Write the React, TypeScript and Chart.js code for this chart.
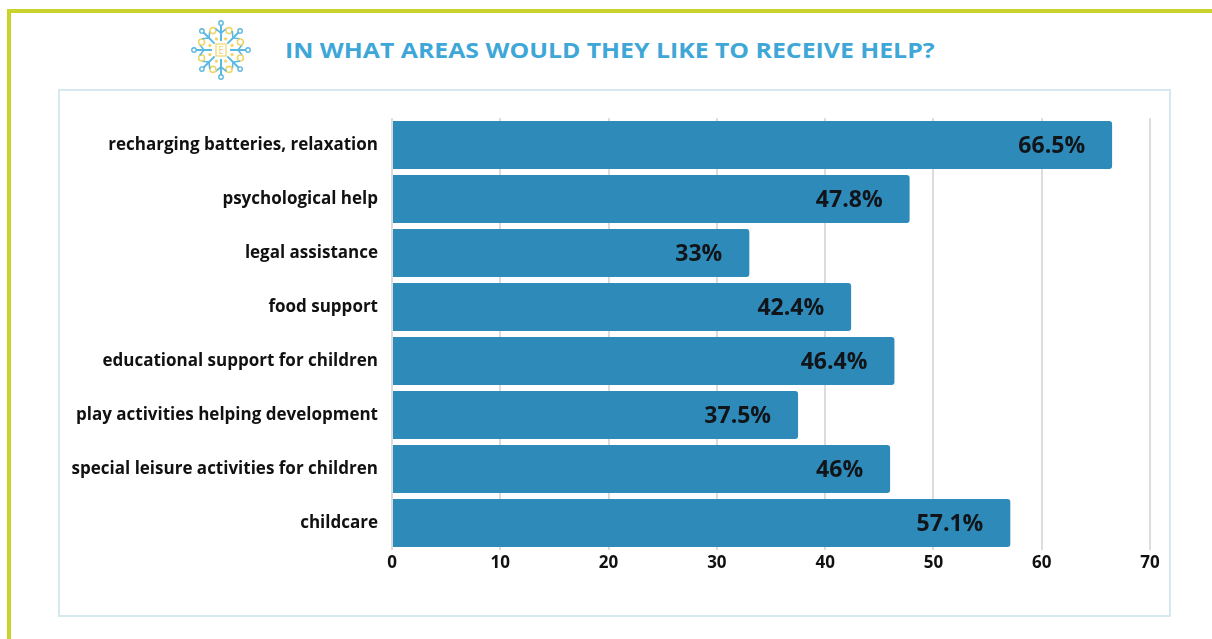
import React, { useEffect, useRef } from "react";
import { Chart, registerables } from "chart.js";

Chart.register(...registerables);

const categories = [
  "recharging batteries, relaxation",
  "psychological help",
  "legal assistance",
  "food support",
  "educational support for children",
  "play activities helping development",
  "special leisure activities for children",
  "childcare",
];
const values = [66.5, 47.8, 33, 42.4, 46.4, 37.5, 46, 57.1];
const valueLabels = ["66.5%", "47.8%", "33%", "42.4%", "46.4%", "37.5%", "46%", "57.1%"];
const title = "IN WHAT AREAS WOULD THEY LIKE TO RECEIVE HELP?";

const FONT = "'Open Sans', 'Noto Sans', sans-serif";

const endLabels = {
  id: "endLabels",
  afterDatasetsDraw(chart: any) {
    const ctx = chart.ctx;
    const meta = chart.getDatasetMeta(0);
    ctx.save();
    ctx.font = `bold 23px ${FONT}`;
    ctx.fillStyle = "#111418";
    ctx.textAlign = "right";
    ctx.textBaseline = "middle";
    meta.data.forEach((bar: any, i: number) => {
      ctx.fillText(valueLabels[i], bar.x - 27, bar.y + 1);
    });
    ctx.restore();
  },
};

function Logo() {
  const blue = "#5bb8e0";
  const yellow = "#f0d66a";
  const arms = [];
  for (let i = 0; i < 8; i++) {
    const a = (i * Math.PI) / 4;
    const c = Math.cos(a), s = Math.sin(a);
    const x1 = 31 + c * 9, y1 = 31 + s * 9;
    const x2 = 31 + c * 25, y2 = 31 + s * 25;
    arms.push(
      <g key={i}>
        <line x1={x1} y1={y1} x2={x2} y2={y2} stroke={blue} strokeWidth={2} />
        <circle cx={31 + c * 27} cy={31 + s * 27} r={2.2} fill="none" stroke={blue} strokeWidth={1.4} />
        <line
          x1={31 + c * 17} y1={31 + s * 17}
          x2={31 + c * 17 + Math.cos(a + 0.9) * 7} y2={31 + s * 17 + Math.sin(a + 0.9) * 7}
          stroke={blue} strokeWidth={1.6}
        />
        <line
          x1={31 + c * 17} y1={31 + s * 17}
          x2={31 + c * 17 + Math.cos(a - 0.9) * 7} y2={31 + s * 17 + Math.sin(a - 0.9) * 7}
          stroke={blue} strokeWidth={1.6}
        />
        <circle cx={31 + Math.cos(a + Math.PI / 8) * 21} cy={31 + Math.sin(a + Math.PI / 8) * 21} r={3} fill="none" stroke={yellow} strokeWidth={1.6} />
        <circle cx={31 + Math.cos(a + Math.PI / 8) * 12} cy={31 + Math.sin(a + Math.PI / 8) * 12} r={1.6} fill={yellow} />
      </g>
    );
  }
  return (
    <svg width={62} height={62} style={{ position: "absolute", left: 190, top: 19 }}>
      {arms}
      <rect x={26} y={25} width={10} height={12} fill="none" stroke={yellow} strokeWidth={1.2} />
      <text x={31} y={35} fontSize={10} fill={yellow} textAnchor="middle" fontFamily={FONT}>E</text>
    </svg>
  );
}

export default function App() {
  const ref = useRef<HTMLCanvasElement>(null);
  useEffect(() => {
    if (!ref.current) return;
    const chart = new Chart(ref.current, {
      type: "bar",
      data: {
        labels: categories,
        datasets: [
          {
            data: values,
            backgroundColor: "#2e8bb9",
            borderRadius: 3,
            borderSkipped: "start",
            barPercentage: 0.89,
            categoryPercentage: 1,
          },
        ],
      },
      options: {
        indexAxis: "y",
        animation: false,
        responsive: false,
        maintainAspectRatio: false,
        layout: { padding: { top: 28, right: 20, bottom: 42, left: 0 } },
        plugins: { legend: { display: false }, tooltip: { enabled: false } },
        scales: {
          x: {
            min: 0,
            max: 70,
            ticks: { stepSize: 10, color: "#111", padding: 3, font: { family: FONT, size: 17, weight: "bold" } },
            grid: { color: "#dcdcdc", lineWidth: 2, drawTicks: false },
            border: { display: false },
            afterFit: (scale: any) => {
              scale.height = 24;
            },
          },
          y: {
            ticks: { color: "#111", padding: 14, font: { family: FONT, size: 17, weight: "bold" } },
            grid: { display: false, drawTicks: false },
            border: { display: false },
            afterFit: (scale: any) => {
              scale.width = 333;
            },
          },
        },
      },
      plugins: [endLabels],
    });
    return () => chart.destroy();
  }, []);

  return (
    <div style={{ position: "absolute", left: 0, top: 0, width: 1212, height: 639, background: "#fff", overflow: "hidden" }}>
      <div
        style={{
          position: "absolute",
          left: 7,
          top: 9,
          width: 1300,
          height: 700,
          borderTop: "4px solid #c9d32b",
          borderLeft: "4px solid #c9d32b",
          boxSizing: "border-box",
        }}
      />
      <Logo />
      <div
        style={{
          position: "absolute",
          left: 285,
          top: 34,
          fontFamily: FONT,
          fontWeight: 700,
          fontSize: 22,
          lineHeight: "30px",
          color: "#3ea7d8",
          whiteSpace: "nowrap",
          transform: "scaleX(1.128)",
          transformOrigin: "left center",
        }}
      >
        {title}
      </div>
      <div
        style={{
          position: "absolute",
          left: 58,
          top: 89,
          width: 1113,
          height: 528,
          border: "2px solid #d6e9f1",
          boxSizing: "border-box",
        }}
      />
      <canvas ref={ref} width={1111} height={526} style={{ position: "absolute", left: 59, top: 90 }} />
    </div>
  );
}
